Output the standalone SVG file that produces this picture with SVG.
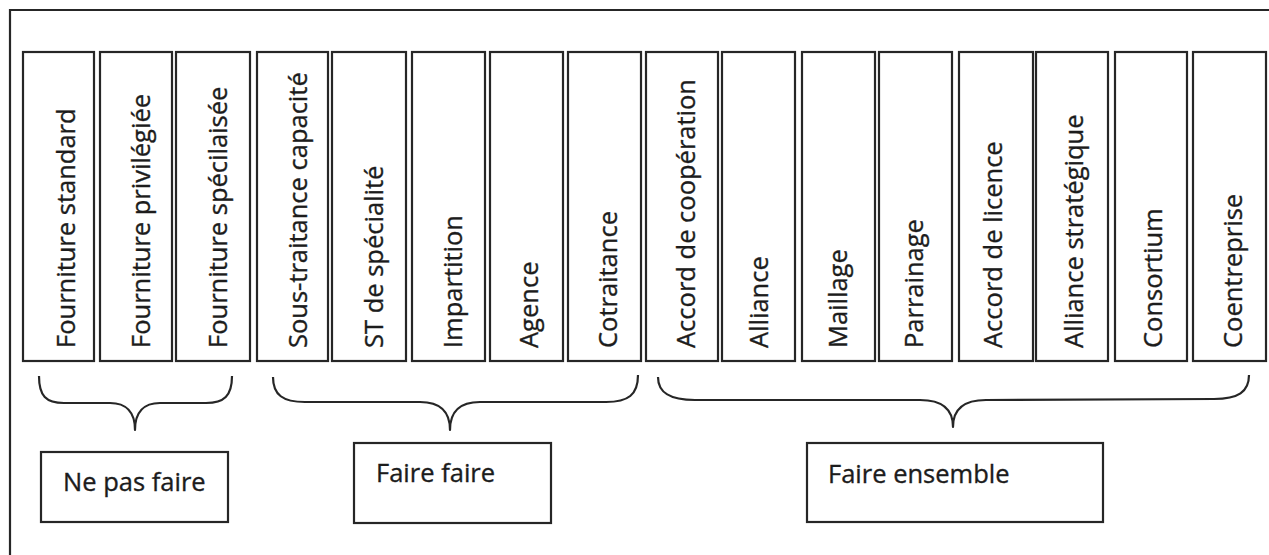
<svg xmlns="http://www.w3.org/2000/svg" width="1269" height="555" viewBox="0 0 1269 555">
  <style>
    .frame { fill: none; stroke: #262626; stroke-width: 2.2; }
    .box { fill: #ffffff; stroke: #262626; stroke-width: 2.2; }
    .brace { fill: none; stroke: #262626; stroke-width: 2.2; stroke-linejoin: round; }
    .label { font-family: "Open Sans", "Liberation Sans", sans-serif; font-size: 25.5px; fill: #1c1c1c; stroke: #1c1c1c; stroke-width: 0.35; }
  </style>
  <rect x="0" y="0" width="1269" height="555" fill="#ffffff"/>

  <!-- outer frame (top and left edges only) -->
  <polyline class="frame" points="10,555 10,10 1269,10"/>

  <!-- vertical category boxes; text rotated to read bottom-up -->
  <g id="fourniture-standard"><rect class="box" x="23" y="52" width="71" height="309"/><text class="label" transform="translate(75,348) rotate(-90)">Fourniture standard</text></g>
  <g id="fourniture-privilegiee"><rect class="box" x="100" y="52" width="72" height="309"/><text class="label" transform="translate(150,348) rotate(-90)">Fourniture privilégiée</text></g>
  <g id="fourniture-specialisee"><rect class="box" x="176" y="52" width="74" height="309"/><text class="label" transform="translate(227,348) rotate(-90)">Fourniture spécilaisée</text></g>
  <g id="sous-traitance-capacite"><rect class="box" x="257" y="52" width="71" height="309"/><text class="label" transform="translate(307,348) rotate(-90)">Sous-traitance capacité</text></g>
  <g id="st-specialite"><rect class="box" x="332" y="52" width="74" height="309"/><text class="label" transform="translate(383,348) rotate(-90)">ST de spécialité</text></g>
  <g id="impartition"><rect class="box" x="412" y="52" width="73" height="309"/><text class="label" transform="translate(462,348) rotate(-90)">Impartition</text></g>
  <g id="agence"><rect class="box" x="490" y="52" width="73" height="309"/><text class="label" transform="translate(538,348) rotate(-90)">Agence</text></g>
  <g id="cotraitance"><rect class="box" x="568" y="52" width="73" height="309"/><text class="label" transform="translate(617,348) rotate(-90)">Cotraitance</text></g>
  <g id="accord-cooperation"><rect class="box" x="646" y="52" width="72" height="309"/><text class="label" transform="translate(695,348) rotate(-90)">Accord de coopération</text></g>
  <g id="alliance"><rect class="box" x="722" y="52" width="73" height="309"/><text class="label" transform="translate(768,348) rotate(-90)">Alliance</text></g>
  <g id="maillage"><rect class="box" x="802" y="52" width="73" height="309"/><text class="label" transform="translate(847,348) rotate(-90)">Maillage</text></g>
  <g id="parrainage"><rect class="box" x="879" y="52" width="73" height="309"/><text class="label" transform="translate(923,348) rotate(-90)">Parrainage</text></g>
  <g id="accord-licence"><rect class="box" x="959" y="52" width="74" height="309"/><text class="label" transform="translate(1002,348) rotate(-90)">Accord de licence</text></g>
  <g id="alliance-strategique"><rect class="box" x="1036" y="52" width="72" height="309"/><text class="label" transform="translate(1083,348) rotate(-90)">Alliance stratégique</text></g>
  <g id="consortium"><rect class="box" x="1115" y="52" width="72" height="309"/><text class="label" transform="translate(1162,348) rotate(-90)">Consortium</text></g>
  <g id="coentreprise"><rect class="box" x="1193" y="52" width="73" height="309"/><text class="label" transform="translate(1242,348) rotate(-90)">Coentreprise</text></g>

  <!-- curly braces grouping the boxes -->
  <g id="connectors">
    <path class="brace" d="M39,376 C39,396 46,403 64,403 L110,403 C126,403 135,412 135,430 C135,412 144,403 160,403 L206,403 C224,403 232,396 232,376"/>
    <path class="brace" d="M273,377 C273,395 283,402 305,402 L420,402 C438,402 450,410 450,430 C450,410 462,402 480,402 L606,402 C628,402 638,395 638,375"/>
    <path class="brace" d="M658,377 C658,393 670,400 695,400 L920,400 C940,400 953,408 953,427 C953,408 966,400 986,400 L1214,399 C1238,399 1249,392 1249,375"/>
  </g>

  <!-- group labels -->
  <g id="ne-pas-faire"><rect class="box" x="41" y="452" width="187" height="70"/><text class="label" x="63" y="491">Ne pas faire</text></g>
  <g id="faire-faire"><rect class="box" x="354" y="443" width="197" height="80"/><text class="label" x="376" y="482">Faire faire</text></g>
  <g id="faire-ensemble"><rect class="box" x="807" y="443" width="296" height="79"/><text class="label" x="828" y="483">Faire ensemble</text></g>
</svg>
